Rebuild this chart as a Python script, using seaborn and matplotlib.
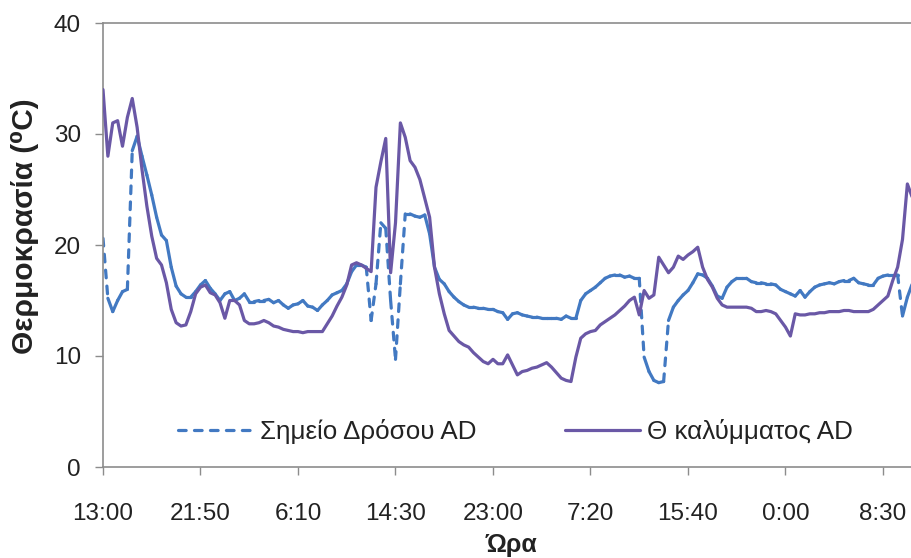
import numpy as np
import pandas as pd
import matplotlib
matplotlib.use("Agg")
import matplotlib.pyplot as plt
from matplotlib.collections import LineCollection
from matplotlib.lines import Line2D
import seaborn as sns

# Category labels shown on the time axis (one every `label_step` readings)
time_labels = ["13:00", "21:50", "6:10", "14:30", "23:00", "7:20", "15:40", "0:00", "8:30"]
label_step = 20

# Dew point of the greenhouse air (°C)
dew_point = [
    20.6, 15.2, 14.0, 15.0, 15.8, 16.0, 28.5, 29.8, 28.0, 26.3,
    24.5, 22.5, 20.9, 20.4, 18.0, 16.3, 15.6, 15.3, 15.3, 15.8,
    16.4, 16.8, 16.1, 15.6, 15.0, 15.6, 15.8, 15.0, 15.2, 15.6,
    14.9, 14.9, 15.0, 15.0, 15.1, 14.8, 15.0, 14.6, 14.3, 14.6,
    14.7, 15.0, 14.5, 14.4, 14.1, 14.6, 15.0, 15.5, 15.7, 15.9,
    16.5, 17.6, 18.2, 18.2, 18.0, 13.2, 16.5, 22.0, 21.5, 15.0,
    9.7, 16.5, 22.8, 22.8, 22.6, 22.5, 22.7, 21.0, 18.0, 16.9,
    16.5, 15.8, 15.3, 14.9, 14.6, 14.4, 14.4, 14.3, 14.3, 14.2,
    14.2, 14.0, 13.9, 13.3, 13.8, 13.9, 13.7, 13.6, 13.5, 13.5,
    13.4, 13.4, 13.4, 13.4, 13.3, 13.6, 13.4, 13.4, 15.0, 15.6,
    15.9, 16.2, 16.6, 17.0, 17.2, 17.3, 17.3, 17.1, 17.2, 17.0,
    17.0, 9.9, 8.6, 7.8, 7.6, 7.7, 13.2, 14.4, 15.0, 15.5,
    15.9, 16.6, 17.4, 17.3, 17.0, 16.3, 15.4, 15.2, 16.2, 16.7,
    17.0, 17.0, 17.0, 16.7, 16.6, 16.6, 16.5, 16.5, 16.4, 16.0,
    15.8, 15.6, 15.4, 15.9, 15.3, 15.8, 16.2, 16.4, 16.5, 16.6,
    16.5, 16.7, 16.8, 16.8, 17.0, 16.6, 16.5, 16.4, 16.4, 17.0,
    17.2, 17.3, 17.3, 17.3, 13.6, 15.3, 16.5,
]

# Temperature of the greenhouse cover (°C)
cover_temp = [
    34.0, 28.0, 31.0, 31.2, 28.9, 31.5, 33.2, 30.6, 26.8, 23.5,
    20.8, 18.8, 18.2, 16.6, 14.2, 13.0, 12.7, 12.8, 14.0, 15.6,
    16.2, 16.4, 15.7, 15.5, 14.8, 13.4, 15.0, 15.0, 14.6, 13.2,
    12.9, 12.9, 13.0, 13.2, 13.0, 12.7, 12.6, 12.4, 12.3, 12.2,
    12.2, 12.1, 12.2, 12.2, 12.2, 12.2, 12.9, 13.6, 14.5, 15.3,
    16.4, 18.2, 18.4, 18.2, 17.9, 17.6, 25.2, 27.5, 29.6, 17.5,
    22.0, 31.0, 29.7, 27.6, 27.0, 25.9, 24.2, 22.5, 18.0, 15.6,
    13.8, 12.3, 11.8, 11.3, 11.0, 10.8, 10.3, 9.9, 9.5, 9.3,
    9.7, 9.3, 9.3, 10.1, 9.2, 8.3, 8.6, 8.7, 8.9, 9.0,
    9.2, 9.4, 9.0, 8.5, 8.0, 7.8, 7.7, 9.9, 11.6, 12.0,
    12.2, 12.3, 12.8, 13.1, 13.4, 13.7, 14.1, 14.5, 15.0, 15.3,
    13.7, 15.9, 15.2, 15.5, 18.9, 18.2, 17.5, 18.0, 19.0, 18.7,
    19.1, 19.4, 19.8, 18.0, 16.9, 16.2, 15.2, 14.6, 14.4, 14.4,
    14.4, 14.4, 14.4, 14.3, 14.0, 14.0, 14.1, 14.0, 13.8, 13.2,
    12.6, 11.8, 13.8, 13.7, 13.7, 13.8, 13.8, 13.9, 13.9, 14.0,
    14.0, 14.0, 14.1, 14.1, 14.0, 14.0, 14.0, 14.0, 14.2, 14.6,
    15.0, 15.4, 16.8, 18.0, 20.5, 25.5, 24.3,
]

series_names = ["Σημείο Δρόσου AD", "Θ καλύμματος AD"]
BLUE = "#4279C2"
PURPLE = "#6A58A6"
LW = 2.3
DASH = (0, (2.4, 2.6))
DASH_MIN_PX = 34  # steps longer than this on screen show the dash pattern
TEXT = "#222222"
AXIS = "#8c8c8c"
X_MAX = 817 / 4.875

sns.set_theme(style="white")
plt.rcParams["font.family"] = ["Liberation Sans", "DejaVu Sans"]

df = pd.DataFrame({
    "idx": np.arange(len(dew_point)),
    "dew": dew_point,
    "cover": cover_temp,
})

fig = plt.figure(figsize=(9.12, 5.58), dpi=100)
ax = fig.add_axes([103 / 912, 91 / 558, 817 / 912, 444 / 558])

# Dew point: each step is stroked on its own; long (steep) steps are dashed,
# short ones stay solid.
sns.lineplot(data=df, x="idx", y="dew", ax=ax, color=BLUE, lw=LW, legend=False)
dew_line = ax.lines[-1]
xy = dew_line.get_xydata()
dew_line.remove()
segments = np.stack([xy[:-1], xy[1:]], axis=1)
ax.set_xlim(0, X_MAX)
ax.set_ylim(0, 40)
px = ax.transData.transform(segments.reshape(-1, 2)).reshape(-1, 2, 2)
seg_len = np.hypot(*(px[:, 1] - px[:, 0]).T)
styles = [DASH if L > DASH_MIN_PX else "solid" for L in seg_len]
ax.add_collection(LineCollection(segments, colors=BLUE, linewidths=LW,
                                 linestyles=styles, capstyle="round",
                                 joinstyle="round", zorder=2))

sns.lineplot(data=df, x="idx", y="cover", ax=ax, color=PURPLE, lw=LW,
             legend=False, zorder=3)
ax.lines[-1].set_solid_joinstyle("round")

ax.set_xlim(0, X_MAX)
ax.set_ylim(0, 40)
ax.set_yticks([0, 10, 20, 30, 40])
ax.set_xticks(np.arange(len(time_labels)) * label_step)
ax.set_xticklabels(time_labels)

for side in ["left", "bottom", "top", "right"]:
    ax.spines[side].set_color(AXIS)
    ax.spines[side].set_linewidth(1.2)

ax.tick_params(axis="both", which="major", bottom=True, left=True,
               direction="out", length=6, width=1, color=AXIS,
               labelsize=17.5, labelcolor=TEXT)
ax.tick_params(axis="x", pad=20)
ax.tick_params(axis="y", pad=10)

ax.set_xlabel("Ώρα", fontsize=18, fontweight="bold", color=TEXT)
ax.set_ylabel("Θερμοκρασία (⁰C)", fontsize=21.5, fontweight="bold", color=TEXT)
ax.xaxis.set_label_coords(0.50, -0.149)
ax.yaxis.set_label_coords(-0.078, 0.543)

handles = [
    Line2D([], [], color=BLUE, lw=LW, linestyle=DASH, dash_capstyle="round"),
    Line2D([], [], color=PURPLE, lw=LW),
]
ax.legend(handles, series_names, loc="center", bbox_to_anchor=(0.505, 0.079),
          ncol=2, frameon=False, fontsize=18.7, handlelength=2.9,
          handletextpad=0.25, columnspacing=3.4, labelcolor=TEXT)

fig.savefig("out.png", dpi=100)
